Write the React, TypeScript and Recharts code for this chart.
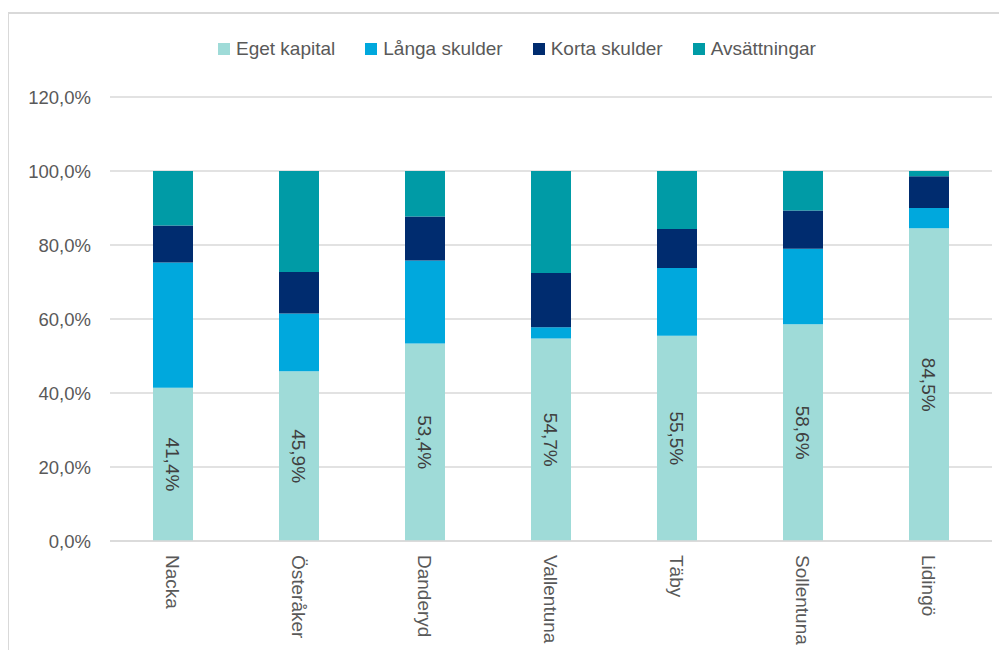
import React from 'react';
import { BarChart, Bar, XAxis, YAxis, CartesianGrid, LabelList } from 'recharts';

const categories = ['Nacka', 'Österåker', 'Danderyd', 'Vallentuna', 'Täby', 'Sollentuna', 'Lidingö'];
const egetKapital = [41.4, 45.9, 53.4, 54.7, 55.5, 58.6, 84.5];
const langaSkulder = [33.9, 15.6, 22.4, 3.1, 18.3, 20.4, 5.5];
const kortaSkulder = [10.0, 11.2, 11.9, 14.6, 10.5, 10.3, 8.6];
const avsattningar = [14.7, 27.3, 12.3, 27.6, 15.7, 10.7, 1.4];
const yTicks = [0, 20, 40, 60, 80, 100, 120];

const series = [
  { key: 'eget', name: 'Eget kapital', color: '#9fdbd8', values: egetKapital },
  { key: 'langa', name: 'Långa skulder', color: '#00a8dd', values: langaSkulder },
  { key: 'korta', name: 'Korta skulder', color: '#002c6f', values: kortaSkulder },
  { key: 'avs', name: 'Avsättningar', color: '#009ba6', values: avsattningar },
];

const data = categories.map((c, i) => {
  const row: Record<string, any> = { name: c };
  series.forEach((s) => {
    row[s.key] = s.values[i];
  });
  return row;
});

const FONT = '"Liberation Sans", Arial, sans-serif';
const fmt = (v: number) => `${v.toFixed(1).replace('.', ',')}%`;

const XTick = (props: any) => {
  const { x, y, payload } = props;
  const ty = y + 6;
  return (
    <text
      x={x}
      y={ty}
      transform={`rotate(90, ${x}, ${ty})`}
      textAnchor="start"
      dy="0.35em"
      fill="#595959"
      fontSize={19}
      fontFamily={FONT}
    >
      {payload.value}
    </text>
  );
};

const SegLabel = (props: any) => {
  const { x, y, width, height, value } = props;
  const cx = Number(x) + Number(width) / 2;
  const cy = Number(y) + Number(height) / 2;
  return (
    <text
      x={cx}
      y={cy}
      transform={`rotate(90, ${cx}, ${cy})`}
      textAnchor="middle"
      dy="0.35em"
      fill="#404040"
      fontSize={19}
      fontFamily={FONT}
    >
      {fmt(Number(value))}
    </text>
  );
};

export default function App() {
  return (
    <div
      style={{
        position: 'relative',
        width: 1007,
        height: 658,
        overflow: 'hidden',
        margin: -8,
        background: '#ffffff',
        fontFamily: FONT,
      }}
    >
      <div
        style={{
          position: 'absolute',
          left: 7,
          top: 12,
          width: 1100,
          height: 700,
          borderLeft: '2px solid #d9d9d9',
          borderTop: '2px solid #d9d9d9',
        }}
      />
      <div style={{ position: 'absolute', left: 0, top: 0 }}>
        <BarChart
          width={1007}
          height={658}
          data={data}
          margin={{ top: 97, right: 15, bottom: 0, left: 0 }}
          barSize={40}
        >
          <CartesianGrid vertical={false} stroke="#d9d9d9" strokeWidth={1.5} />
          <XAxis
            dataKey="name"
            height={117}
            interval={0}
            axisLine={{ stroke: '#d9d9d9', strokeWidth: 1.5 }}
            tickLine={false}
            tick={<XTick />}
          />
          <YAxis
            width={110}
            domain={[0, 120]}
            ticks={yTicks}
            tickFormatter={fmt}
            axisLine={false}
            tickLine={false}
            tickSize={0}
            tickMargin={19}
            tick={{ fill: '#595959', fontSize: 18.5, fontFamily: FONT }}
          />
          {series.map((s) => (
            <Bar
              key={s.key}
              dataKey={s.key}
              name={s.name}
              stackId="a"
              fill={s.color}
              isAnimationActive={false}
            >
              {s.key === 'eget' ? (
                <LabelList dataKey="eget" content={<SegLabel />} />
              ) : null}
            </Bar>
          ))}
        </BarChart>
      </div>
      <div
        style={{
          position: 'absolute',
          left: 218,
          top: 37,
          height: 24,
          display: 'flex',
          alignItems: 'center',
          whiteSpace: 'nowrap',
        }}
      >
        {series.map((s, i) => (
          <div
            key={s.key}
            style={{
              display: 'flex',
              alignItems: 'center',
              marginRight: i < series.length - 1 ? 30 : 0,
            }}
          >
            <div style={{ width: 12, height: 12, background: s.color, marginRight: 6 }} />
            <span style={{ fontSize: 19, color: '#595959', lineHeight: '24px' }}>{s.name}</span>
          </div>
        ))}
      </div>
    </div>
  );
}
